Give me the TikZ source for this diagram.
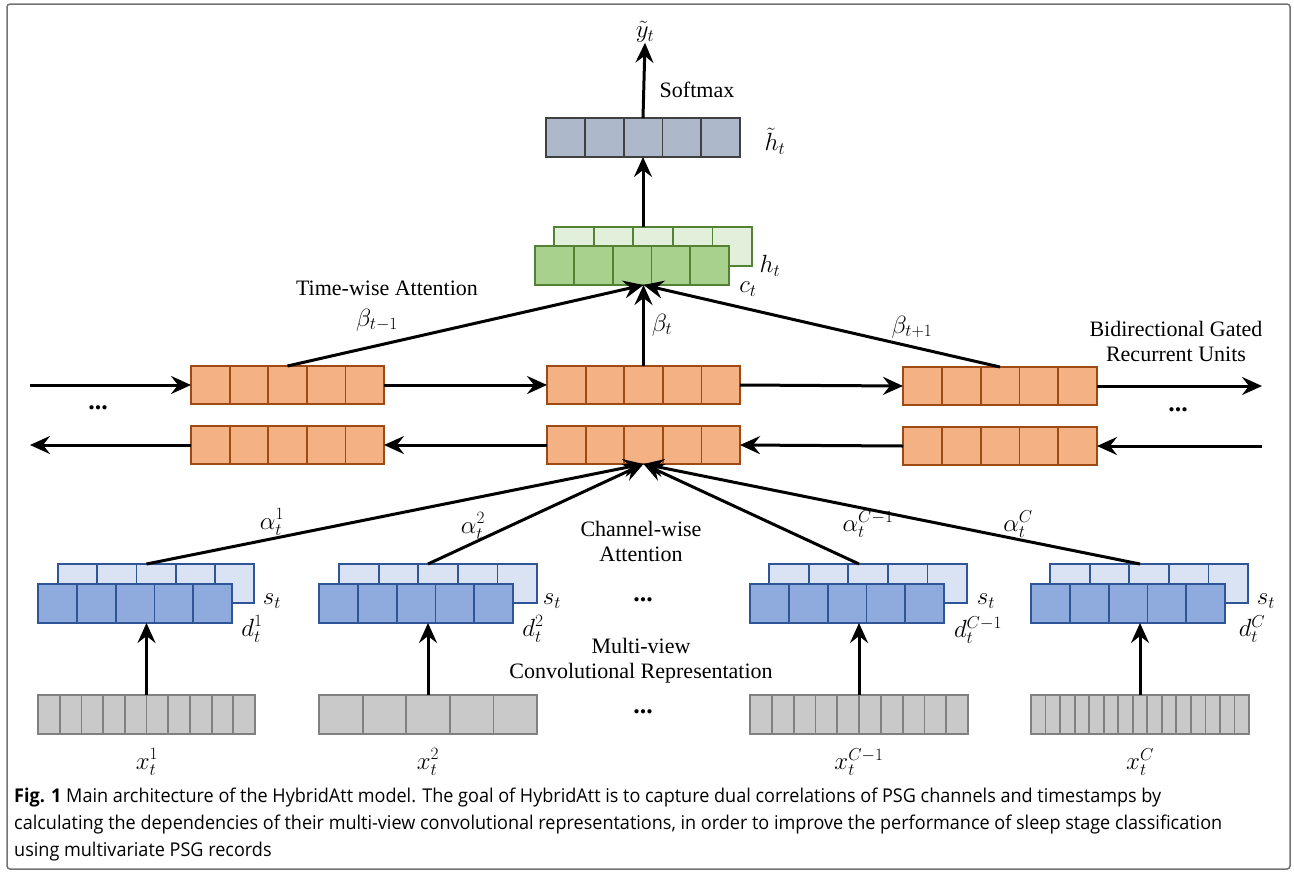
\documentclass[tikz,border=0pt]{standalone}
\usepackage{fontspec}
\setmainfont{Liberation Serif}
\newfontfamily\capfont[FakeStretch=0.95]{Open Sans}
\usetikzlibrary{arrows.meta}
\definecolor{topfill}{HTML}{ADB9CA}
\definecolor{topdraw}{HTML}{404040}
\definecolor{gfront}{HTML}{A9D18E}
\definecolor{gback}{HTML}{E2EFDA}
\definecolor{gdraw}{HTML}{548235}
\definecolor{ofill}{HTML}{F4B183}
\definecolor{odraw}{HTML}{9E4A14}
\definecolor{bfront}{HTML}{8FAADC}
\definecolor{bback}{HTML}{DAE3F3}
\definecolor{bdraw}{HTML}{2F5597}
\definecolor{infill}{HTML}{C9C9C9}
\definecolor{indraw}{HTML}{808080}
\tikzset{
  topbox/.style={draw=topdraw,fill=topfill,line width=1.8pt},
  gfbox/.style={draw=gdraw,fill=gfront,line width=1.8pt},
  gbbox/.style={draw=gdraw,fill=gback,line width=1.8pt},
  obox/.style={draw=odraw,fill=ofill,line width=1.8pt},
  bfbox/.style={draw=bdraw,fill=bfront,line width=1.8pt},
  bbbox/.style={draw=bdraw,fill=bback,line width=1.8pt},
  inbox/.style={draw=indraw,fill=infill,line width=1.8pt},
  arr/.style={line width=3pt,-{Stealth[length=20pt,width=18pt,inset=7pt]}},
  lbl/.style={inner sep=0pt,font=\fontsize{22}{25}\selectfont},
  mlbl/.style={inner sep=0pt,font=\fontsize{25}{28}\selectfont},
  dotlbl/.style={inner sep=0pt,font=\fontsize{26}{28}\selectfont\bfseries},
  captext/.style={anchor=base west,inner sep=0pt,font=\capfont\fontsize{19}{22}\selectfont},
}
\newcommand\cellbox[7]{%
  \node[#7,inner sep=0pt,outer sep=0pt,anchor=north west,minimum width={#4-#2},minimum height={#5-#3}] (#1) at (#2,#3) {};
  \pgfmathsetmacro\cbw{(#4-#2)/#6}%
  \pgfmathtruncatemacro\cbn{#6-1}%
  \foreach \k in {1,...,\cbn} {\draw[#7,fill=none] ({#2+\k*\cbw},#3) -- ({#2+\k*\cbw},#5);}%
}
\begin{document}
\begin{tikzpicture}[x=1pt,y=-1pt]
\useasboundingbox (0,0) rectangle (1294,873);
\draw[line width=1.5pt,draw=black!55,rounded corners=3pt] (7,4) rectangle (1290,869);

% top output
\cellbox{ht}{546}{118}{740}{157}{5}{topbox}
\node[mlbl] (yt) at (645,32) {$\tilde{y}_t$};
\node[lbl] (sm) at (697,90) {Softmax};
\node[mlbl] (htl) at (775,141) {$\tilde{h}_t$};

% green
\cellbox{gb}{554}{227}{752}{266}{5}{gbbox}
\cellbox{gf}{535}{246}{729}{285}{5}{gfbox}
\node[mlbl] (hl) at (770,266) {$h_t$};
\node[mlbl] (cl) at (748,289) {$c_t$};

% orange GRU
\cellbox{lt}{191}{366}{384}{404}{5}{obox}
\cellbox{lb}{191}{426}{384}{464}{5}{obox}
\cellbox{ct}{547}{366}{740}{404}{5}{obox}
\cellbox{cb}{547}{426}{740}{464}{5}{obox}
\cellbox{rt}{903}{367}{1097}{405}{5}{obox}
\cellbox{rb}{903}{427}{1097}{465}{5}{obox}

\coordinate (linL) at (30,385);
\coordinate (loutL) at (30,445);
\coordinate (routR) at (1262,386);
\coordinate (rinR) at (1262,446);
\draw[arr] (linL) -- (lt.west);
\draw[arr] (lt.east) -- (ct.west);
\draw[arr] (ct.east) -- (rt.west);
\draw[arr] (rt.east) -- (routR);
\draw[arr] (rinR) -- (rb.east);
\draw[arr] (rb.west) -- (cb.east);
\draw[arr] (cb.west) -- (lb.east);
\draw[arr] (lb.west) -- (loutL);
\node[dotlbl] (dotL) at (98,408) {...};
\node[dotlbl] (dotR) at (1178,410) {...};

\node[lbl] (twa) at (387,288) {Time-wise Attention};
\node[lbl,align=center] (bgru) at (1176,341) {Bidirectional Gated\\[0pt]Recurrent Units};

% time attention
\draw[arr] (lt.north) -- (ct.north |- gf.south);
\draw[arr] (ct.north) -- (ct.north |- gf.south);
\draw[arr] (rt.north) -- (ct.north |- gf.south);
\node[mlbl] (b1) at (377,320) {$\beta_{t-1}$};
\node[mlbl] (b2) at (662,325) {$\beta_{t}$};
\node[mlbl] (b3) at (912,327) {$\beta_{t+1}$};

\draw[arr] (ht.south |- gb.north) -- (ht.south);
\draw[arr] (ht.north) -- (yt.south);

% blue conv groups
\cellbox{b1b}{58}{564}{254}{603}{5}{bbbox}
\cellbox{b1f}{38}{584}{232}{623}{5}{bfbox}
\cellbox{b2b}{339}{564}{537}{603}{5}{bbbox}
\cellbox{b2f}{319}{584}{513}{623}{5}{bfbox}
\cellbox{b3b}{769}{564}{967}{603}{5}{bbbox}
\cellbox{b3f}{750}{584}{944}{623}{5}{bfbox}
\cellbox{b4b}{1050}{564}{1248}{603}{5}{bbbox}
\cellbox{b4f}{1031}{584}{1225}{623}{5}{bfbox}

% inputs
\cellbox{x1}{38}{695}{255}{734}{10}{inbox}
\cellbox{x2}{319}{695}{537}{734}{5}{inbox}
\cellbox{x3}{750}{695}{968}{734}{10}{inbox}
\cellbox{x4}{1031}{695}{1249}{734}{15}{inbox}

\draw[arr] (x1.north) -- (x1.north |- b1f.south);
\draw[arr] (x2.north) -- (x2.north |- b2f.south);
\draw[arr] (x3.north) -- (x3.north |- b3f.south);
\draw[arr] (x4.north) -- (x4.north |- b4f.south);

% channel attention
\draw[arr] (x1.north |- b1b.north) -- (cb.south);
\draw[arr] (x2.north |- b2b.north) -- (cb.south);
\draw[arr] (x3.north |- b3b.north) -- (cb.south);
\draw[arr] (x4.north |- b4b.north) -- (cb.south);
\node[mlbl] (a1) at (272,522) {$\alpha_t^1$};
\node[mlbl] (a2) at (473,526) {$\alpha_t^2$};
\node[mlbl] (a3) at (868,524) {$\alpha_t^{C-1}$};
\node[mlbl] (a4) at (1018,524) {$\alpha_t^{C}$};

\node[lbl,align=center] (cwa) at (641,541) {Channel-wise\\[0pt]Attention};
\node[dotlbl] (dotM1) at (643,600) {...};
\node[lbl,align=center] (mvc) at (641,661) {Multi-view\\[0pt]Convolutional Representation};
\node[dotlbl] (dotM2) at (643,712) {...};

\node[mlbl] (s1) at (272,601) {$s_t$};
\node[mlbl] (d1) at (252,629) {$d_t^1$};
\node[mlbl] (s2) at (552,601) {$s_t$};
\node[mlbl] (d2) at (533,629) {$d_t^2$};
\node[mlbl] (s3) at (986,601) {$s_t$};
\node[mlbl] (d3) at (978,630) {$d_t^{C-1}$};
\node[mlbl] (s4) at (1266,601) {$s_t$};
\node[mlbl] (d4) at (1252,629) {$d_t^{C}$};

\node[mlbl] (xl1) at (147,762) {$x_t^1$};
\node[mlbl] (xl2) at (428,762) {$x_t^2$};
\node[mlbl] (xl3) at (859,762) {$x_t^{C-1}$};
\node[mlbl] (xl4) at (1140,762) {$x_t^{C}$};

% caption
\node[captext] (cap1) at (14,802) {\textbf{Fig. 1} Main architecture of the HybridAtt model. The goal of HybridAtt is to capture dual correlations of PSG channels and timestamps by};
\node[captext] (cap2) at (14,829) {calculating the dependencies of their multi-view convolutional representations, in order to improve the performance of sleep stage classification};
\node[captext] (cap3) at (14,856) {using multivariate PSG records};
\end{tikzpicture}
\end{document}
